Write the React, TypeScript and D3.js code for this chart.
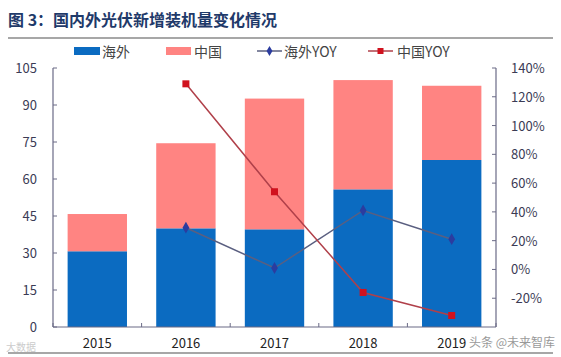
import React from "react";
import * as d3 from "d3";

const years = ["2015", "2016", "2017", "2018", "2019"];
const overseas = [30.7, 40.0, 39.6, 55.8, 67.7];
const china = [15.1, 34.5, 53.0, 44.3, 30.1];
const overseasYoy: (number | null)[] = [null, 0.29, 0.01, 0.41, 0.21];
const chinaYoy: (number | null)[] = [null, 1.29, 0.54, -0.16, -0.32];
const leftTicks = [0, 15, 30, 45, 60, 75, 90, 105];
const rightTicks = [-0.2, 0, 0.2, 0.4, 0.6, 0.8, 1.0, 1.2, 1.4];
const legendLabels = ["海外", "中国", "海外YOY", "中国YOY"];
const title = "图 3：国内外光伏新增装机量变化情况";

const W = 561, H = 357;
const L = 53, R = 496, T = 68, B = 327;
const BLUE = "#0b6bc1", PINK = "#ff8482";
const AXIS = "#6a6a86", TXT = "#3b3b55";
const FONT = "'Noto Sans CJK SC', 'Noto Sans', sans-serif";

export default function App() {
  const x = d3.scaleBand().domain(years).range([L, R]).paddingInner(0.33).paddingOuter(0.165);
  const yL = d3.scaleLinear().domain([0, 105]).range([B, T]);
  const yR = d3.scaleLinear().domain([-0.4, 1.4]).range([B, T]);
  const cx = (i: number) => (x(years[i]) as number) + x.bandwidth() / 2;

  const mkLine = (arr: (number | null)[]) =>
    d3.line<number | null>()
      .defined((d) => d !== null)
      .x((_, i) => cx(i))
      .y((d) => yR(d as number))(arr) as string;

  const step = x.step();
  const boundaries = d3.range(years.length + 1).map((i) => L + i * step);

  return (
    <svg width={W} height={H} style={{ position: "absolute", left: 0, top: 0, background: "#fff" }} fontFamily={FONT}>
      <text x={8} y={26} fontSize={16} fontWeight="bold" fill="#1f3a6a">{title}</text>
      <line x1={8} x2={553} y1={38} y2={38} stroke="#8a8a8a" strokeWidth={1.5} />
      <line x1={8} x2={553} y1={353} y2={353} stroke="#8a8a8a" strokeWidth={1.5} />

      {/* legend */}
      <g fontSize={14} fill="#444">
        <rect x={74} y={47} width={26} height={8} fill={BLUE} />
        <text x={102} y={57}>{legendLabels[0]}</text>
        <rect x={166} y={47} width={25} height={8} fill={PINK} />
        <text x={194} y={57}>{legendLabels[1]}</text>
        <line x1={257} x2={282} y1={51} y2={51} stroke="#5a5f80" strokeWidth={1.5} />
        <path d={d3.symbol(d3.symbolDiamond, 30)() as string} transform="translate(269.5,51)" fill="#2b3c9f" />
        <text x={284} y={57}>{legendLabels[2]}</text>
        <line x1={368} x2={393} y1={51} y2={51} stroke="#b0404a" strokeWidth={1.5} />
        <rect x={377.5} y={48} width={6} height={6} fill="#d0121e" />
        <text x={397} y={57}>{legendLabels[3]}</text>
      </g>

      {/* bars */}
      {years.map((yr, i) => (
        <g key={yr}>
          <rect x={x(yr)} y={yL(overseas[i])} width={x.bandwidth()} height={B - yL(overseas[i])} fill={BLUE} />
          <rect x={x(yr)} y={yL(overseas[i] + china[i])} width={x.bandwidth()} height={yL(overseas[i]) - yL(overseas[i] + china[i])} fill={PINK} />
        </g>
      ))}

      {/* axes */}
      <line x1={L} x2={L} y1={T} y2={B} stroke={AXIS} strokeWidth={1.2} />
      <line x1={R} x2={R} y1={T} y2={B} stroke={AXIS} strokeWidth={1.2} />
      <line x1={L} x2={R} y1={B} y2={B} stroke={AXIS} strokeWidth={1.2} />
      {leftTicks.map((t) => (
        <g key={"l" + t}>
          <line x1={L} x2={L + 4} y1={yL(t)} y2={yL(t)} stroke={AXIS} />
          <text x={37} y={yL(t) + 5} fontSize={13} textAnchor="end" fill={TXT}>{t}</text>
        </g>
      ))}
      {rightTicks.map((t) => (
        <g key={"r" + t}>
          <line x1={R - 4} x2={R} y1={yR(t)} y2={yR(t)} stroke={AXIS} />
          <text x={511} y={yR(t) + 5} fontSize={13} fill={TXT}>{d3.format(".0%")(t).replace("−", "-")}</text>
        </g>
      ))}
      {boundaries.map((b, i) => (
        <line key={"b" + i} x1={b} x2={b} y1={B} y2={B - 4} stroke={AXIS} />
      ))}
      {years.map((yr, i) => (
        <text key={"x" + yr} x={cx(i)} y={348} fontSize={13} textAnchor="middle" fill="#222">{yr}</text>
      ))}

      {/* lines */}
      <path d={mkLine(overseasYoy)} fill="none" stroke="#5a5f80" strokeWidth={1.5} />
      <path d={mkLine(chinaYoy)} fill="none" stroke="#b0404a" strokeWidth={1.5} />
      {overseasYoy.map((v, i) => v === null ? null : (
        <path key={"od" + i} d={d3.symbol(d3.symbolDiamond, 40)() as string} transform={`translate(${cx(i)},${yR(v)})`} fill="#2b3c9f" />
      ))}
      {chinaYoy.map((v, i) => v === null ? null : (
        <rect key={"cs" + i} x={cx(i) - 3.5} y={yR(v) - 3.5} width={7} height={7} fill="#d0121e" />
      ))}

      {/* watermarks */}
      <text x={555} y={347} fontSize={12} textAnchor="end" fill="#777" opacity={0.75}>头条 @未来智库</text>
      <text x={6} y={351} fontSize={10} fill="#aaa" opacity={0.6}>大数据</text>
    </svg>
  );
}
